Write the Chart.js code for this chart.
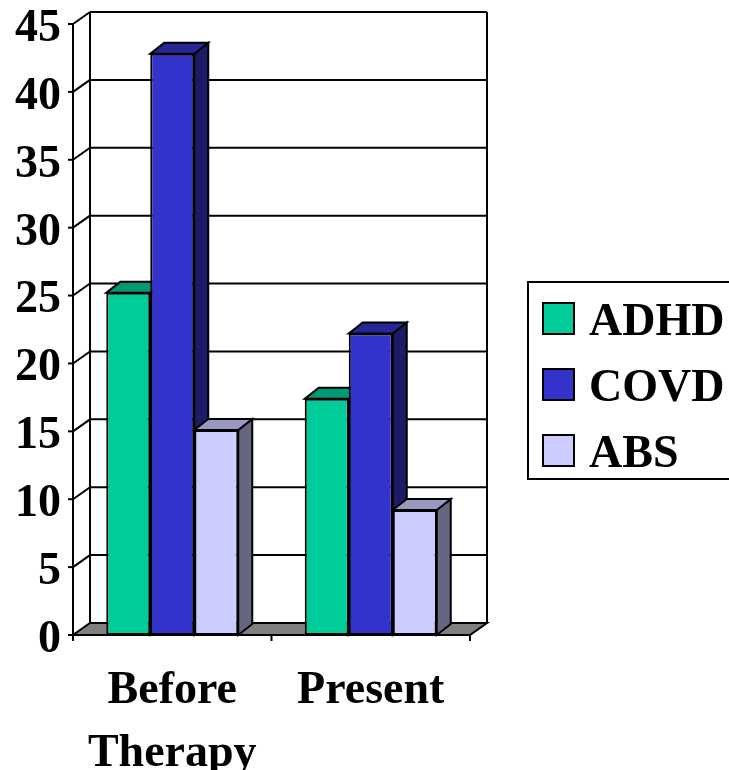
<!DOCTYPE html>
<html>
<head>
<meta charset="utf-8">
<style>
  html, body { margin: 0; padding: 0; background: #ffffff; }
  #wrap { width: 729px; height: 770px; }
</style>
<script src="https://cdn.jsdelivr.net/npm/chart.js@4.4.1/dist/chart.umd.min.js"></script>
</head>
<body>
<div id="wrap"><canvas id="c" width="729" height="770"></canvas></div>
<script>
// Categories and series
const categories = [['Before', 'Therapy'], 'Present'];
const seriesNames = ['ADHD', 'COVD', 'ABS'];
const adhd = [25.2, 17.4];
const covd = [42.8, 22.2];
const abs = [15.1, 9.2];
const yMax = 45;
const yStep = 5;

// Face colours: front, top, side
const faceColors = [
  ['#00CC99', '#009973', '#006B50'],
  ['#3333CC', '#262699', '#1C1C66'],
  ['#CCCCFF', '#9999C0', '#666680']
];

const FONT = '"Liberation Serif", "Times New Roman", serif';
const WALL_DX = 17, WALL_DY = 12;   // depth of the walls and floor
const BAR_DX = 14, BAR_DY = 11;     // depth of each bar

function poly(ctx, pts, fill) {
  ctx.beginPath();
  ctx.moveTo(pts[0][0], pts[0][1]);
  for (let i = 1; i < pts.length; i++) ctx.lineTo(pts[i][0], pts[i][1]);
  ctx.closePath();
  if (fill) { ctx.fillStyle = fill; ctx.fill(); }
  ctx.stroke();
}
function line(ctx, x1, y1, x2, y2) {
  ctx.beginPath(); ctx.moveTo(x1, y1); ctx.lineTo(x2, y2); ctx.stroke();
}

const frame3d = {
  id: 'frame3d',
  beforeDatasetsDraw(chart) {
    const { ctx, chartArea: a, scales } = chart;
    const ys = scales.y;
    const L = a.left, R = a.right;
    const B = ys.getPixelForValue(0), T = ys.getPixelForValue(yMax);
    ctx.save();
    ctx.strokeStyle = '#000'; ctx.lineWidth = 2; ctx.lineJoin = 'miter';
    // floor
    poly(ctx, [[L, B], [R, B], [R + WALL_DX, B - WALL_DY], [L + WALL_DX, B - WALL_DY]], '#808080');
    // back wall gridlines and side wall diagonals
    for (let v = yStep; v <= yMax; v += yStep) {
      const yf = ys.getPixelForValue(v);
      line(ctx, L + WALL_DX, yf - WALL_DY, R + WALL_DX, yf - WALL_DY);
      line(ctx, L, yf, L + WALL_DX, yf - WALL_DY);
    }
    // wall edges
    line(ctx, L + WALL_DX, T - WALL_DY, L + WALL_DX, B - WALL_DY);
    line(ctx, R + WALL_DX, T - WALL_DY, R + WALL_DX, B - WALL_DY);
    line(ctx, L, T, L, B + 6);
    // value ticks
    for (let v = 0; v <= yMax; v += yStep) {
      const yf = ys.getPixelForValue(v);
      line(ctx, L - 5, yf, L, yf);
    }
    // category ticks
    const n = categories.length;
    for (let i = 0; i <= n; i++) {
      const x = L + (R - L) * i / n;
      line(ctx, x, B, x, B + 6);
    }
    // side and top faces of the bars, left to right within each group;
    // the library then paints the front faces over them
    chart.data.datasets.forEach((ds, i) => {
      const cols = faceColors[i];
      chart.getDatasetMeta(i).data.forEach(bar => {
        const x0 = bar.x - bar.width / 2, x1 = bar.x + bar.width / 2;
        const yt = bar.y, yb = bar.base;
        poly(ctx, [[x1, yt], [x1 + BAR_DX, yt - BAR_DY], [x1 + BAR_DX, yb - BAR_DY], [x1, yb]], cols[2]);
        poly(ctx, [[x0, yt], [x1, yt], [x1 + BAR_DX, yt - BAR_DY], [x0 + BAR_DX, yt - BAR_DY]], cols[1]);
      });
    });
    ctx.restore();
  },
  afterDraw(chart) {
    const { ctx } = chart;
    ctx.save();
    ctx.strokeStyle = '#000'; ctx.lineWidth = 2;
    // legend box
    ctx.strokeRect(528, 282, 240, 197);
    ctx.font = 'bold 46px ' + FONT;
    ctx.textBaseline = 'alphabetic';
    ctx.textAlign = 'left';
    chart.data.datasets.forEach((ds, i) => {
      const top = 303 + 66 * i;
      ctx.fillStyle = ds.backgroundColor;
      ctx.fillRect(543, top, 31, 31);
      ctx.strokeRect(543, top, 31, 31);
      ctx.fillStyle = '#000';
      ctx.fillText(ds.label, 589, top + 32);
    });
    ctx.restore();
  }
};

const seriesValues = [adhd, covd, abs];
new Chart(document.getElementById('c'), {
  type: 'bar',
  data: {
    labels: categories,
    datasets: seriesNames.map((name, i) => ({
      label: name,
      data: seriesValues[i],
      backgroundColor: faceColors[i][0],
      borderColor: '#000',
      borderWidth: 2,
      borderSkipped: false,
      categoryPercentage: 0.665,
      barPercentage: 1.0
    }))
  },
  options: {
    responsive: false,
    devicePixelRatio: 1,
    animation: false,
    layout: { padding: { top: 24, right: 259, left: 0, bottom: 0 } },
    plugins: { legend: { display: false }, tooltip: { enabled: false } },
    scales: {
      x: {
        grid: { display: false, drawTicks: false },
        border: { display: false },
        ticks: {
          color: '#000',
          padding: 24,
          maxRotation: 0,
          font: { family: FONT, size: 46, weight: 'bold', lineHeight: 1.38 }
        },
        afterFit(s) { s.height = 135; s.paddingLeft = 0; s.paddingRight = 0; }
      },
      y: {
        min: 0, max: yMax,
        grid: { display: false, drawTicks: false },
        border: { display: false },
        ticks: {
          stepSize: yStep,
          color: '#000',
          padding: 12,
          labelOffset: 5,
          font: { family: FONT, size: 46, weight: 'bold' }
        },
        afterFit(s) { s.width = 73; s.paddingTop = 0; s.paddingBottom = 0; }
      }
    }
  },
  plugins: [frame3d]
});
</script>
</body>
</html>
